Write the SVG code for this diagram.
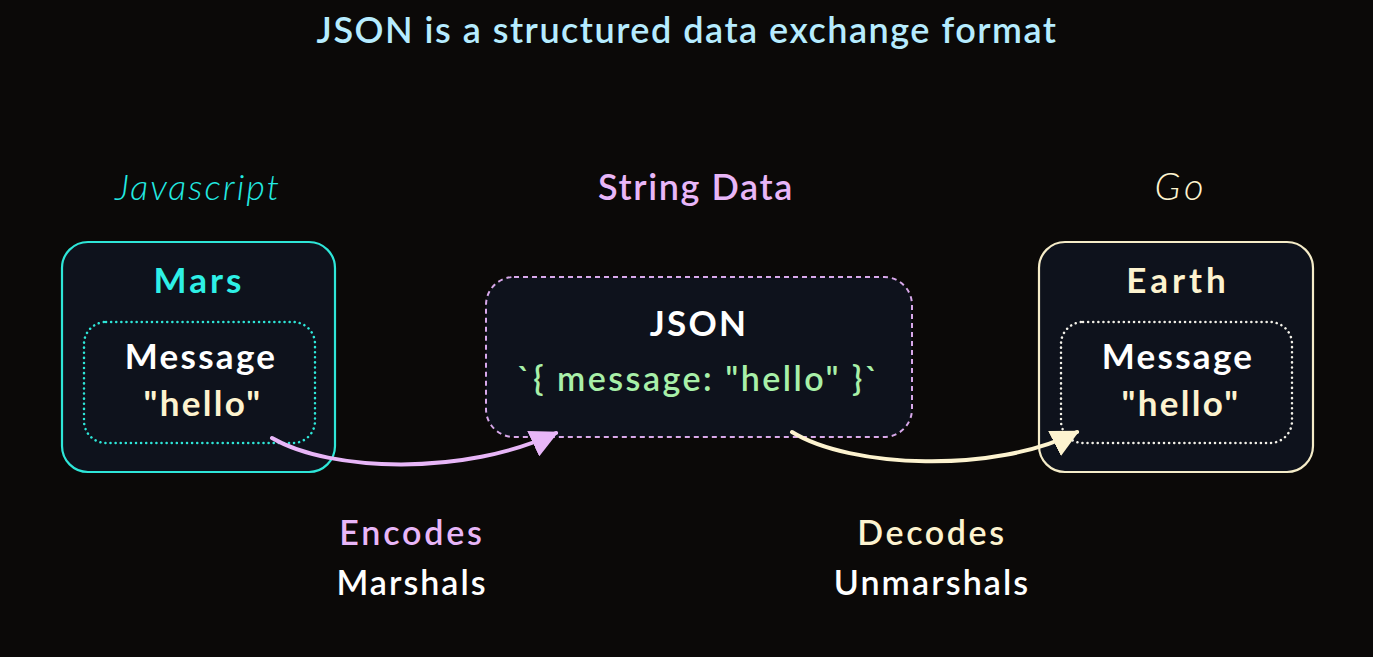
<svg xmlns="http://www.w3.org/2000/svg" width="1373" height="657" viewBox="0 0 1373 657">
<defs>
<style>
text{font-family:Lato,"Open Sans","Liberation Sans",sans-serif;text-anchor:middle}
.b{font-weight:700;font-size:35px;letter-spacing:2.3px}
.m{font-weight:600;font-size:34px;letter-spacing:2.3px}
.it{font-style:italic;font-weight:300;font-size:36px;letter-spacing:2px}
.card{fill:#0e121c;stroke-width:2.2}
</style>
<marker id="ahL" viewBox="0 0 10 10" refX="9" refY="5" markerWidth="7" markerHeight="7" orient="auto" markerUnits="strokeWidth">
<path d="M0,0 L10,5 L0,10 Z" fill="#e8b6f8"/>
</marker>
<marker id="ahC" viewBox="0 0 10 10" refX="9" refY="5" markerWidth="7" markerHeight="7" orient="auto" markerUnits="strokeWidth">
<path d="M0,0 L10,5 L0,10 Z" fill="#fdf3cf"/>
</marker>
</defs>
<rect width="1373" height="657" fill="#0b0908"/>

<text class="m" x="687" y="43" fill="#b6ecff" style="font-size:36px;letter-spacing:1.5px">JSON is a structured data exchange format</text>

<g id="label-javascript"><text class="it" x="198" y="200" fill="#22eae2">Javascript</text></g>
<g id="label-string-data"><text class="m" x="696" y="200" fill="#e8b6f8" style="font-size:36px;letter-spacing:1.6px">String Data</text></g>
<g id="label-go"><text class="it" x="1181" y="200" fill="#fdf3cf" style="font-size:38px;letter-spacing:4px">Go</text></g>

<g id="mars">
<rect class="card" x="62" y="242" width="273" height="230" rx="26" stroke="#2ee6d8"/>
<text class="b" x="199" y="293" fill="#2ef0e6" style="letter-spacing:3px">Mars</text>
<rect x="84" y="322" width="231" height="121" rx="22" fill="none" stroke="#2ee6d8" stroke-width="2.5" stroke-dasharray="0.1 5" stroke-linecap="round"/>
<text class="b" x="201" y="369" fill="#ffffff">Message</text>
<text class="b" x="203" y="416" fill="#fdf3cf">"hello"</text>
</g>

<g id="json">
<rect x="486" y="277" width="426" height="160" rx="28" fill="#0e121c" stroke="#d8a8ea" stroke-width="2" stroke-dasharray="5 4"/>
<text class="b" x="699" y="336" fill="#ffffff">JSON</text>
<text class="m" x="699" y="391" fill="#a8f0a8" style="letter-spacing:2.5px">`{ message: "hello" }`</text>
</g>

<g id="earth">
<rect class="card" x="1039" y="242" width="274" height="230" rx="26" stroke="#f5ecc8"/>
<text class="b" x="1178" y="293" fill="#fdf3cf" style="letter-spacing:4px">Earth</text>
<rect x="1061" y="322" width="231" height="121" rx="22" fill="none" stroke="#f2f0e8" stroke-width="2.5" stroke-dasharray="0.1 5" stroke-linecap="round"/>
<text class="b" x="1178" y="369" fill="#ffffff">Message</text>
<text class="b" x="1181" y="416" fill="#fdf3cf">"hello"</text>
</g>

<g id="connectors" fill="none" stroke-linecap="round">
<path d="M272,438 C330,472 465,476 556,433" stroke="#e8b6f8" stroke-width="4" marker-end="url(#ahL)"/>
<path d="M792,432 C850,468 995,474 1077,432" stroke="#fdf3cf" stroke-width="4" marker-end="url(#ahC)"/>
</g>

<g id="labels">
<text class="m" x="412" y="545" fill="#e8b6f8" style="letter-spacing:2.8px">Encodes</text>
<text class="m" x="412" y="595" fill="#ffffff" style="letter-spacing:2px">Marshals</text>
<text class="m" x="932" y="545" fill="#fdf3cf" style="letter-spacing:2.6px">Decodes</text>
<text class="m" x="932" y="595" fill="#ffffff" style="letter-spacing:2.1px">Unmarshals</text>
</g>
</svg>
